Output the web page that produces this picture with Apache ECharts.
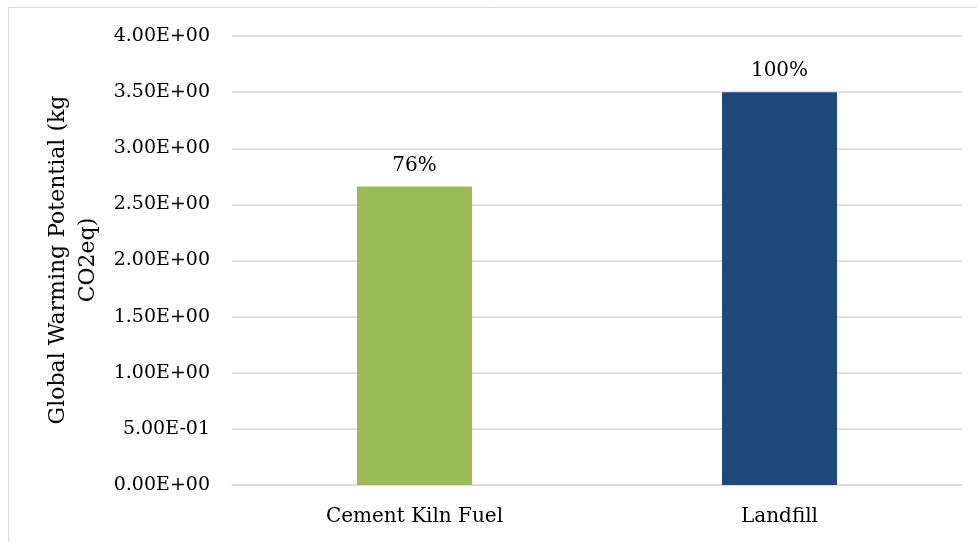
<!DOCTYPE html>
<html>
<head>
<meta charset="utf-8">
<script src="https://cdn.jsdelivr.net/npm/echarts@6/dist/echarts.min.js"></script>
<style>html,body{margin:0;padding:0;background:#fff;}#c{width:977px;height:542px;}</style>
</head>
<body>
<div id="c"></div>
<script>
const categories = ['Cement Kiln Fuel', 'Landfill'];
const values = [2.66, 3.5];
const labels = ['76%', '100%'];
const colors = ['#9bbb59', '#1f497d'];
const yTicks = { min: 0, max: 4, interval: 0.5 };
const yTitle = 'Global Warming Potential (kg\nCO2eq)';

const FONT = 'DejaVu Serif';
const chart = echarts.init(document.getElementById('c'), null, { renderer: 'canvas' });
chart.setOption({
  animation: false,
  backgroundColor: '#fff',
  textStyle: { fontFamily: FONT },
  grid: { left: 232, right: 15, top: 36, bottom: 57, containLabel: false },
  graphic: [
    { type: 'rect', shape: { x: 8.5, y: 7.5, width: 990, height: 560 }, style: { fill: 'none', stroke: '#d9d9d9', lineWidth: 1 }, silent: true },
    { type: 'text', x: 73, y: 260, rotation: Math.PI / 2,
      style: { text: yTitle, fontFamily: FONT, fontSize: 22, fill: '#000', align: 'center', verticalAlign: 'middle', lineHeight: 30 } }
  ],
  xAxis: {
    type: 'category', data: categories,
    axisLine: { show: true, lineStyle: { color: '#d9d9d9', width: 1.5 } },
    axisTick: { show: false },
    axisLabel: { color: '#000', fontFamily: FONT, fontSize: 20, margin: 22 }
  },
  yAxis: {
    type: 'value', min: yTicks.min, max: yTicks.max, interval: yTicks.interval,
    axisLine: { show: false }, axisTick: { show: false },
    splitLine: { lineStyle: { color: '#d9d9d9', width: 1.5 } },
    axisLabel: { color: '#000', fontFamily: FONT, fontSize: 19, margin: 22,
      formatter: v => { const s = v.toExponential(2).toUpperCase(); return s.replace(/E([+-])(\d)$/, 'E$10$2'); } }
  },
  series: [{
    type: 'bar', barWidth: 115,
    data: values.map((v, i) => ({ value: v, itemStyle: { color: colors[i] },
      label: { show: true, position: 'top', distance: 11, formatter: labels[i], color: '#000', fontFamily: FONT, fontSize: 20 } }))
  }]
});
</script>
</body>
</html>
